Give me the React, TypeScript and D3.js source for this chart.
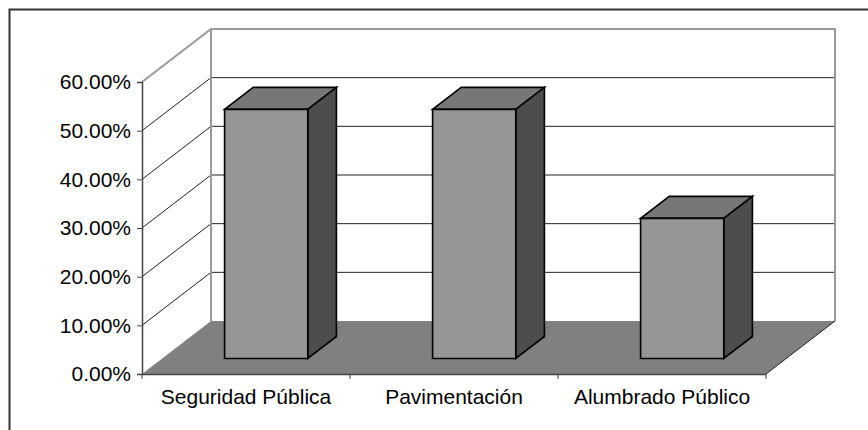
import React, { useEffect, useRef } from 'react';
import * as d3 from 'd3';

const categories = ['Seguridad Pública', 'Pavimentación', 'Alumbrado Público'];
const values = [0.512, 0.512, 0.288];
const yTicks = [0, 0.1, 0.2, 0.3, 0.4, 0.5, 0.6];

const App = () => {
  const svgRef = useRef<SVGSVGElement>(null);

  useEffect(() => {
    const width = 868;
    const height = 430;
    const left = 142, right = 766, bottom = 374, top = 82;
    const depthX = 69, depthY = -53;
    const font = '"Liberation Sans", Arial, sans-serif';

    const svg = d3.select(svgRef.current);
    svg.selectAll('*').remove();
    svg.attr('width', width).attr('height', height);

    // outer chart frame
    svg.append('rect')
      .attr('x', 9.5).attr('y', 9.5)
      .attr('width', 880).attr('height', 440)
      .attr('fill', '#fff').attr('stroke', '#333').attr('stroke-width', 2);

    const xScale = d3.scaleBand().domain(categories).range([left, right]).padding(0);
    const yScale = d3.scaleLinear().domain([0, 0.6]).range([bottom, top]);

    // project a point at depth fraction f (0 = front, 1 = back)
    const P = (x: number, y: number, f: number) => [x + f * depthX, y + f * depthY];
    const pts = (arr: number[][]) => arr.map(p => p.join(',')).join(' ');

    // back wall
    const bx0 = left + depthX, bx1 = right + depthX;
    svg.append('rect')
      .attr('x', bx0).attr('y', yScale(0.6) + depthY)
      .attr('width', bx1 - bx0).attr('height', yScale(0) - yScale(0.6))
      .attr('fill', '#fff');

    // gridlines on back wall and left wall
    yTicks.filter(t => t > 0 && t < 0.6).forEach(t => {
      const yb = yScale(t) + depthY;
      svg.append('line')
        .attr('x1', bx0).attr('x2', bx1).attr('y1', yb).attr('y2', yb)
        .attr('stroke', '#222').attr('stroke-width', 1);
      svg.append('line')
        .attr('x1', left).attr('y1', yScale(t))
        .attr('x2', bx0).attr('y2', yb)
        .attr('stroke', '#222').attr('stroke-width', 1);
    });

    // wall edges (gray)
    const wallEdge = '#9a9a9a';
    const yTopBack = yScale(0.6) + depthY;
    const yBotBack = yScale(0) + depthY;
    svg.append('polyline')
      .attr('points', pts([[left, yScale(0.6)], [bx0, yTopBack], [bx1, yTopBack], [bx1, yBotBack]]))
      .attr('fill', 'none').attr('stroke', wallEdge).attr('stroke-width', 2);
    svg.append('line')
      .attr('x1', bx0).attr('x2', bx0).attr('y1', yTopBack).attr('y2', yBotBack)
      .attr('stroke', wallEdge).attr('stroke-width', 2);

    // floor
    svg.append('polygon')
      .attr('points', pts([P(left, bottom, 0), P(left, bottom, 1), P(right, bottom, 1), P(right, bottom, 0)]))
      .attr('fill', '#808080');
    svg.append('line')
      .attr('x1', right).attr('y1', bottom).attr('x2', right + depthX).attr('y2', bottom + depthY)
      .attr('stroke', '#222').attr('stroke-width', 1);

    // bars
    const barDepth = 22 / 53;
    const f0 = (1 - barDepth) / 2;
    const f1 = f0 + barDepth;
    const bw = xScale.bandwidth() / 2.5;
    categories.forEach((c, i) => {
      const x0 = (xScale(c) as number) + (xScale.bandwidth() - bw) / 2;
      const x1 = x0 + bw;
      const yv = yScale(values[i]);
      const y0 = yScale(0);
      const g = svg.append('g')
        .attr('stroke', '#000').attr('stroke-width', 1.6).attr('stroke-linejoin', 'miter');
      g.append('polygon')
        .attr('points', pts([P(x0, yv, f0), P(x0, yv, f1), P(x1, yv, f1), P(x1, yv, f0)]))
        .attr('fill', '#777777');
      g.append('polygon')
        .attr('points', pts([P(x1, yv, f0), P(x1, yv, f1), P(x1, y0, f1), P(x1, y0, f0)]))
        .attr('fill', '#4d4d4d');
      g.append('polygon')
        .attr('points', pts([P(x0, yv, f0), P(x1, yv, f0), P(x1, y0, f0), P(x0, y0, f0)]))
        .attr('fill', '#969696');
    });

    // y axis
    const yAxis = svg.append('g')
      .attr('transform', `translate(${left},0)`)
      .call(d3.axisLeft(yScale).tickValues(yTicks).tickFormat(d3.format('.2%')).tickSize(5).tickPadding(6));
    yAxis.select('.domain').attr('stroke', '#444').attr('stroke-width', 1.5);
    yAxis.selectAll('.tick line').attr('stroke', '#444');
    yAxis.selectAll('text')
      .attr('font-family', font).attr('font-size', 21).attr('fill', '#000');

    // x axis
    const xAxis = svg.append('g')
      .attr('transform', `translate(0,${bottom})`)
      .call(d3.axisBottom(xScale).tickSize(0).tickPadding(15));
    xAxis.select('.domain').attr('stroke', '#444').attr('stroke-width', 1.5);
    xAxis.selectAll('text')
      .attr('font-family', font).attr('font-size', 21).attr('fill', '#000');
    const bounds = categories.map(c => xScale(c) as number).concat([right]);
    xAxis.selectAll('.bound')
      .data(bounds)
      .enter().append('line')
      .attr('x1', d => d).attr('x2', d => d)
      .attr('y1', 0).attr('y2', 5)
      .attr('stroke', '#444');
  }, []);

  return (
    <svg ref={svgRef} style={{ position: 'absolute', left: 0, top: 0 }}></svg>
  );
};

export default App;
